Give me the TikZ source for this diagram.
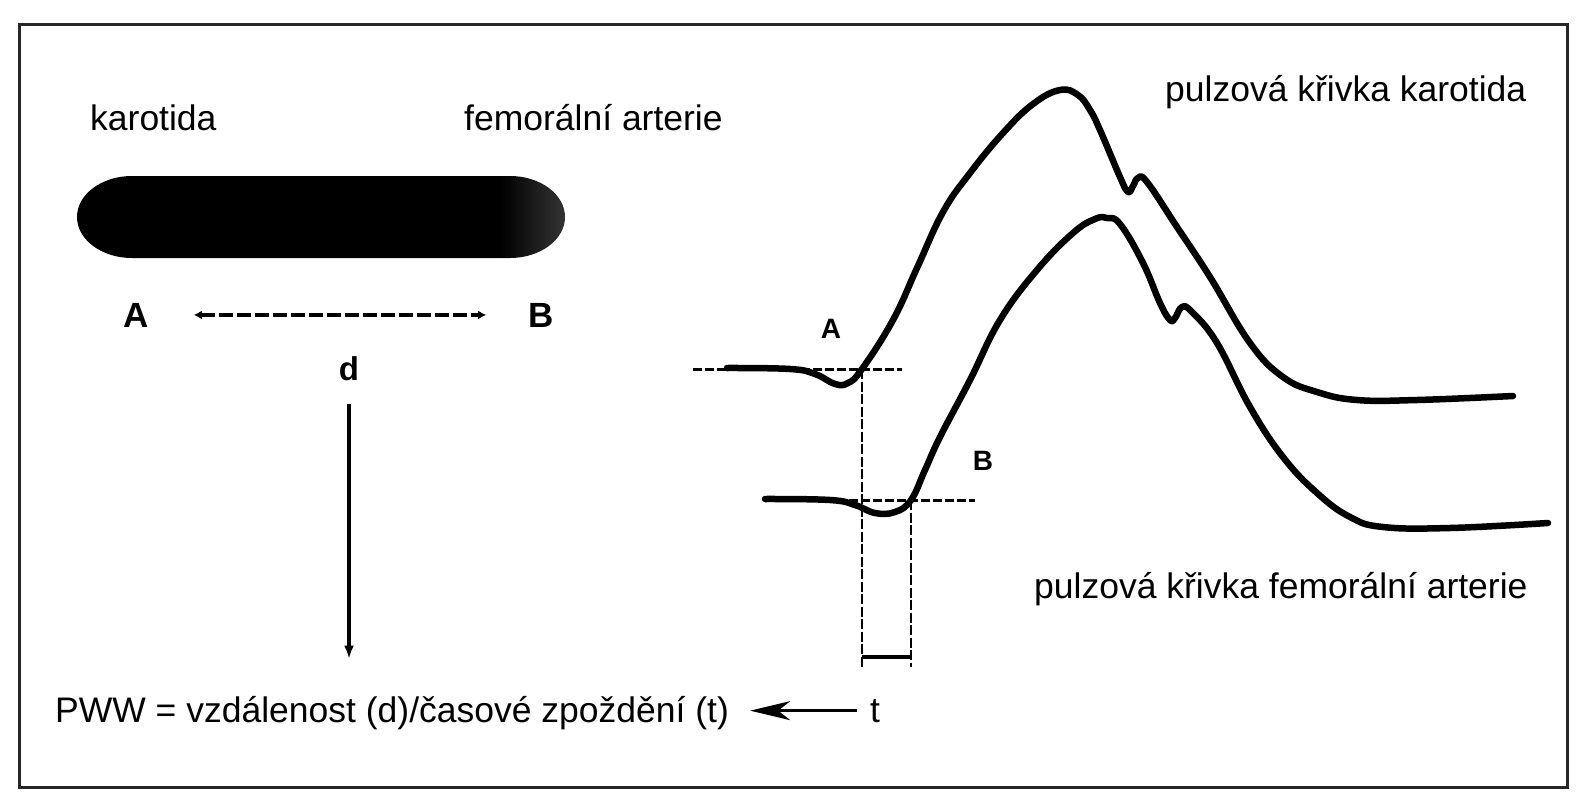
\documentclass[tikz,border=0pt]{standalone}
\usepackage{fontspec}
\setmainfont{Liberation Sans}
\usetikzlibrary{arrows.meta,calc}

\begin{document}
\begin{tikzpicture}[x=1pt, y=-1pt, >=Latex,
  txt/.style={inner sep=0pt, anchor=base west, font=\fontsize{35.5}{40}\selectfont},
  tag/.style={inner sep=0pt, anchor=base, font=\fontsize{35}{40}\selectfont\bfseries},
  small tag/.style={tag, font=\fontsize{28}{32}\selectfont\bfseries},
  pulse/.style={line width=6.5pt, line cap=round, line join=round},
  guide/.style={line width=3pt, dash pattern=on 9pt off 3pt},
  drop/.style={line width=2.5pt, dash pattern=on 10pt off 2.5pt}]

  % 画布参数
  \def\ya{369}
  \def\yb{500}
  \def\xa{862}
  \def\xb{911}
  \useasboundingbox (0,0) rectangle (1585,800);

  % 外框
  \draw[line width=3pt, black!85] (19,25) rectangle (1567,787);

  % 血管(右端稍浅)
  \begin{scope}
    \clip (132,176) -- (510,176)
      arc[start angle=90, end angle=-90, x radius=55pt, y radius=41pt]
      -- (132,258)
      arc[start angle=270, end angle=90, x radius=55pt, y radius=41pt] -- cycle;
    \fill (70,170) rectangle (500,265);
    \shade[left color=black, right color=black!78] (500,170) rectangle (570,265);
  \end{scope}

  % 左侧文字
  \node[txt] (karo) at (90,130) {karotida};
  \node[txt] (femo) at (464,130) {femorální arterie};
  \node[tag] (A) at (136,327) {A};
  \node[tag] (B) at (541,327) {B};
  \node[tag, font=\fontsize{33}{40}\selectfont\bfseries] (d) at (349,380) {d};

  % 距离 d
  \draw[line width=4pt, dash pattern=on 14pt off 4pt,
    {Latex[length=8pt,width=9pt]}-{Latex[length=8pt,width=9pt]}]
    ([xshift=45]A.east) -- ([xshift=-42]B.west);

  % 公式与箭头
  \node[txt] (pww) at (55,722) {PWW = vzdálenost (d)/časové zpoždění (t)};
  \node[txt, anchor=base] (t) at (875,722) {t};
  \draw[line width=3.5pt, -{Latex[length=13pt,width=10pt]}, shorten <=23pt, shorten >=37pt]
    (d.south) -- (d.south |- pww.north);
  \draw[line width=2.5pt, -{Stealth[length=40pt,width=19pt,inset=12pt]},
    shorten <=13pt, shorten >=21pt] (t.west) -- (t.west -| pww.east);

  % 基线与竖虚线
  \draw[guide] (693,\ya) -- (902,\ya);
  \draw[guide] (765,\yb) -- (975,\yb);
  \draw[drop] (\xa,\ya) -- (\xa,667);
  \draw[drop] (\xb,\yb) -- (\xb,667);
  \draw[line width=4pt] (\xa,657) -- (\xb,657);

  % 颈动脉脉搏曲线
  \draw[pulse] plot[smooth, tension=0.7] coordinates {
    (727,368) (790,369) (815,374) (835,384) (848,383) (\xa,\ya)
    (893,320) (917,268) (943,212) (970,173) (1003,133) (1033,104) (1060,90)
    (1078,95) (1090,110) (1100,130) (1120,177) (1128,192) (1133,186) (1138,178)
    (1147,182) (1177,227) (1210,277) (1250,343) (1283,377) (1317,392)
    (1357,400) (1417,400) (1513,396)};

  % 股动脉脉搏曲线
  \draw[pulse] plot[smooth, tension=0.7] coordinates {
    (765,499) (830,500) (855,505) (875,513) (895,512) (\xb,\yb) (925,470)
    (940,437) (970,380) (1000,320) (1037,270) (1073,233) (1095,219) (1107,218)
    (1120,224) (1143,263) (1160,303) (1170,320) (1175,318) (1182,307)
    (1192,312) (1217,343) (1250,407) (1283,457) (1317,493) (1350,517)
    (1383,527) (1450,528) (1548,523)};

  % 右侧文字
  \node[small tag] (Aa) at (831,338) {A};
  \node[small tag] (Bb) at (983,470) {B};
  \node[txt] (ck) at (1165,102) {pulzová křivka karotida};
  \node[txt] (cf) at (1034,598) {pulzová křivka femorální arterie};

\end{tikzpicture}
\end{document}
